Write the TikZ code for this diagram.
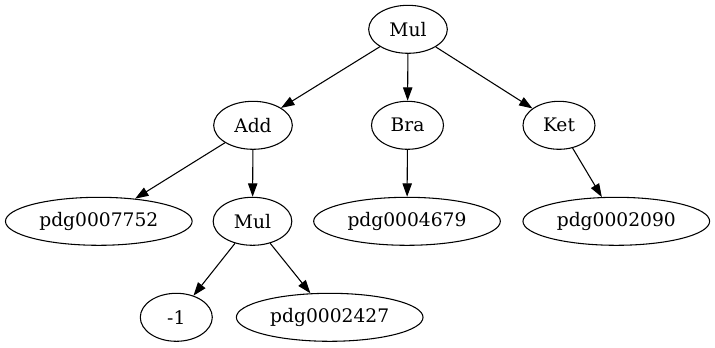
\documentclass[tikz,border=0pt]{standalone}
\usepackage{fontspec}
\setmainfont{DejaVu Serif}
\usetikzlibrary{shapes.geometric,arrows.meta}
\tikzset{
  gnode/.style={draw, ellipse, line width=0.8pt, inner sep=0pt, minimum height=36pt, font=\fontsize{14pt}{16pt}\selectfont},
  sm/.style={gnode, minimum width=54pt},
  md/.style={gnode, minimum width=59pt},
  lg/.style={gnode, minimum width=140pt},
  edge/.style={line width=0.8pt, -{Triangle[length=10pt,width=7pt]}}
}
\begin{document}
\begin{tikzpicture}[x=0.75pt,y=0.75pt]
\useasboundingbox (0,0) rectangle (715,347);
\node[md] (m1) at (408,317.7) {Mul};
\node[md] (add) at (253,221.7) {Add};
\node[sm] (bra) at (407.5,221.7) {Bra};
\node[sm] (ket) at (559,221.7) {Ket};
\node[lg] (p7752) at (98.8,125.7) {pdg0007752};
\node[md] (m2) at (252.5,125.7) {Mul};
\node[lg] (p4679) at (407,125.7) {pdg0004679};
\node[lg] (p2090) at (616.3,125.7) {pdg0002090};
\node[sm] (n1) at (176.3,29.7) {-1};
\node[lg] (p2427) at (329.7,29.7) {pdg0002427};
\draw[edge] (m1) -- (add);
\draw[edge] (m1) -- (bra);
\draw[edge] (m1) -- (ket);
\draw[edge] (add) -- (p7752);
\draw[edge] (add) -- (m2);
\draw[edge] (bra) -- (p4679);
\draw[edge] (ket) -- (p2090);
\draw[edge] (m2) -- (n1);
\draw[edge] (m2) -- (p2427);
\end{tikzpicture}
\end{document}
